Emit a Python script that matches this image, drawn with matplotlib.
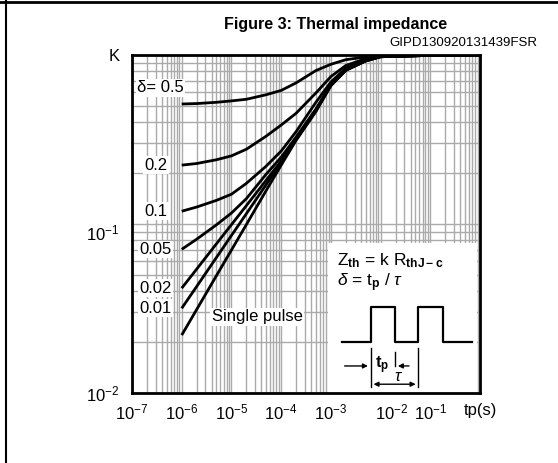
import matplotlib
matplotlib.use("Agg")
import matplotlib.pyplot as plt
from matplotlib.lines import Line2D
from matplotlib.patches import Rectangle
from matplotlib.transforms import ScaledTranslation

plt.rcParams['font.family'] = ['Liberation Sans', 'DejaVu Sans']
plt.rcParams['mathtext.fontset'] = 'custom'
plt.rcParams['mathtext.rm'] = 'Liberation Sans'
plt.rcParams['mathtext.it'] = 'Liberation Sans:italic'
plt.rcParams['mathtext.bf'] = 'Liberation Sans:bold'

# pulse duration (s), shared by all curves
tp = [1e-6, 2e-6, 5e-6, 1e-5, 2e-5, 5e-5, 1e-4, 2e-4, 5e-4, 1e-3, 2e-3, 5e-3, 1e-2, 1e-1, 1.0]

# K for each duty cycle
k_05 = [0.513, 0.516, 0.525, 0.535, 0.547, 0.582, 0.617, 0.684, 0.809, 0.881, 0.938, 0.973, 0.986, 0.995, 1.0]
k_02 = [0.223, 0.228, 0.240, 0.253, 0.277, 0.331, 0.385, 0.452, 0.596, 0.745, 0.867, 0.951, 0.982, 0.995, 1.0]
k_01 = [0.119, 0.126, 0.138, 0.150, 0.174, 0.220, 0.270, 0.352, 0.525, 0.692, 0.836, 0.933, 0.977, 0.995, 1.0]
k_005 = [0.0708, 0.0813, 0.0989, 0.1161, 0.1413, 0.1972, 0.2483, 0.3273, 0.4786, 0.6683, 0.8166, 0.9247, 0.977, 0.995, 1.0]
k_002 = [0.0417, 0.0541, 0.0764, 0.0991, 0.1285, 0.1816, 0.2355, 0.3199, 0.4732, 0.6637, 0.8147, 0.9226, 0.977, 0.995, 1.0]
k_001 = [0.0317, 0.0427, 0.0634, 0.0855, 0.1151, 0.1710, 0.2301, 0.3162, 0.4677, 0.6607, 0.8128, 0.9226, 0.977, 0.995, 1.0]
k_single = [0.0220, 0.0312, 0.0495, 0.0701, 0.0993, 0.1578, 0.2228, 0.3126, 0.4624, 0.6577, 0.8110, 0.9226, 0.977, 0.995, 1.0]

curves = [k_05, k_02, k_01, k_005, k_002, k_001, k_single]
curve_labels = ['0.2', '0.1', '0.05', '0.02', '0.01']

xticks = [1e-7, 1e-6, 1e-5, 1e-4, 1e-3, 1e-2, 1e-1, 1e0]
xticklabels = ['$10^{-7}$', '$10^{-6}$', '$10^{-5}$', '$10^{-4}$', '$10^{-3}$',
               '$10^{-2}$', '$10^{-1}$', 'tp(s)']
yticks = [1e-2, 1e-1, 1e0]
yticklabels = ['$10^{-2}$', '$10^{-1}$', 'K']

W, H = 558, 463
fig = plt.figure(figsize=(W / 100, H / 100), dpi=100)
ax = fig.add_axes([132 / W, 1 - 393 / H, 348 / W, 338 / H])

ax.set_xscale('log')
ax.set_yscale('log')
ax.set_xlim(1e-7, 1e0)
ax.set_ylim(1e-2, 1e0)

ax.xaxis.set_minor_locator(matplotlib.ticker.LogLocator(base=10, subs=range(2, 10), numticks=20))
ax.yaxis.set_minor_locator(matplotlib.ticker.LogLocator(base=10, subs=range(2, 10), numticks=20))
ax.grid(which='both', color='#aaaaaa', lw=1.0)

ax.set_xticks(xticks)
ax.set_xticklabels(xticklabels)
ax.set_yticks(yticks)
ax.set_yticklabels(yticklabels)
ax.xaxis.set_minor_formatter(matplotlib.ticker.NullFormatter())
ax.yaxis.set_minor_formatter(matplotlib.ticker.NullFormatter())
ax.tick_params(which='both', length=0)
ax.tick_params(axis='x', labelsize=12, pad=7)
ax.tick_params(axis='y', labelsize=12, pad=9)
for s in ax.spines.values():
    s.set_linewidth(2)

# the scanned original has the 10^-2 / 10^-1 labels slightly off their lines
lbl = ax.get_xticklabels()[5]
lbl.set_transform(lbl.get_transform() + ScaledTranslation(0.11, 0, fig.dpi_scale_trans))
lbl = ax.get_yticklabels()[1]
lbl.set_transform(lbl.get_transform() + ScaledTranslation(0, -0.08, fig.dpi_scale_trans))

# white box behind the formula/pulse sketch
ax.add_patch(Rectangle((0.563, 0.0), 0.428, 0.444, transform=ax.transAxes,
                       fc='white', ec='none', zorder=2))

for k in curves:
    ax.plot(tp, k, color='black', lw=2.0, zorder=3, solid_capstyle='butt')

box = dict(fc='white', ec='none', pad=1)
ax.text(10 ** -6.9, 10 ** -0.195, 'δ= 0.5', fontsize=12, ha='left', va='center', bbox=box, zorder=4)
for lab, k in zip(curve_labels, curves[1:6]):
    ax.text(10 ** -6.52, k[0], lab, fontsize=12, ha='center', va='center', bbox=box, zorder=4)
ax.text(10 ** -5.4, 10 ** -1.55, 'Single pulse', fontsize=12, ha='left', va='center', bbox=box, zorder=4)

# formula
ax.text(0.59, 0.392, r'Z$_{\bf th}$ = k R$_{\bf thJ-c}$', transform=ax.transAxes,
        fontsize=12.5, ha='left', va='center', zorder=4)
ax.text(0.59, 0.325, r'$\delta$ = t$_{\bf p}$ / $\tau$', transform=ax.transAxes,
        fontsize=12.5, ha='left', va='center', zorder=4)

# pulse train sketch
wx = [0.603, 0.686, 0.686, 0.756, 0.756, 0.823, 0.823, 0.893, 0.893, 0.976]
wy = [0.152, 0.152, 0.254, 0.254, 0.152, 0.152, 0.254, 0.254, 0.152, 0.152]
ax.plot(wx, wy, color='black', lw=1.6, transform=ax.transAxes, zorder=4)
ax.plot([0.686, 0.686], [0.132, 0.019], color='black', lw=1, transform=ax.transAxes, zorder=4)
ax.plot([0.756, 0.756], [0.122, 0.080], color='black', lw=1, transform=ax.transAxes, zorder=4)
ax.plot([0.823, 0.823], [0.132, 0.019], color='black', lw=1, transform=ax.transAxes, zorder=4)
arr = dict(arrowstyle='-|>', color='black', lw=1, mutation_scale=7)
ax.annotate('', xy=(0.686, 0.080), xytext=(0.603, 0.080), xycoords='axes fraction', arrowprops=arr, zorder=4)
ax.annotate('', xy=(0.756, 0.080), xytext=(0.804, 0.080), xycoords='axes fraction', arrowprops=arr, zorder=4)
ax.annotate('', xy=(0.686, 0.026), xytext=(0.823, 0.026), xycoords='axes fraction',
            arrowprops=dict(arrowstyle='<|-|>', color='black', lw=1, mutation_scale=7), zorder=4)
ax.text(0.718, 0.082, r't$_{\bf p}$', transform=ax.transAxes, fontsize=12, weight='bold',
        ha='center', va='center', zorder=4)
ax.text(0.765, 0.048, r'$\tau$', transform=ax.transAxes, fontsize=12,
        ha='center', va='center', zorder=4)

fig.text(336 / W, 1 - 25 / H, 'Figure 3: Thermal impedance', fontsize=11.5,
         weight='bold', ha='center', va='center')
fig.text(537 / W, 1 - 43 / H, 'GIPD130920131439FSR', fontsize=9.5, ha='right', va='center')

# page frame lines
fig.add_artist(Line2D([6 / W, 6 / W], [0, 1], color='black', lw=1.5))
fig.add_artist(Line2D([0, 1], [1 - 2 / H, 1 - 2 / H], color='black', lw=2))

fig.savefig('out.png', dpi=100)
